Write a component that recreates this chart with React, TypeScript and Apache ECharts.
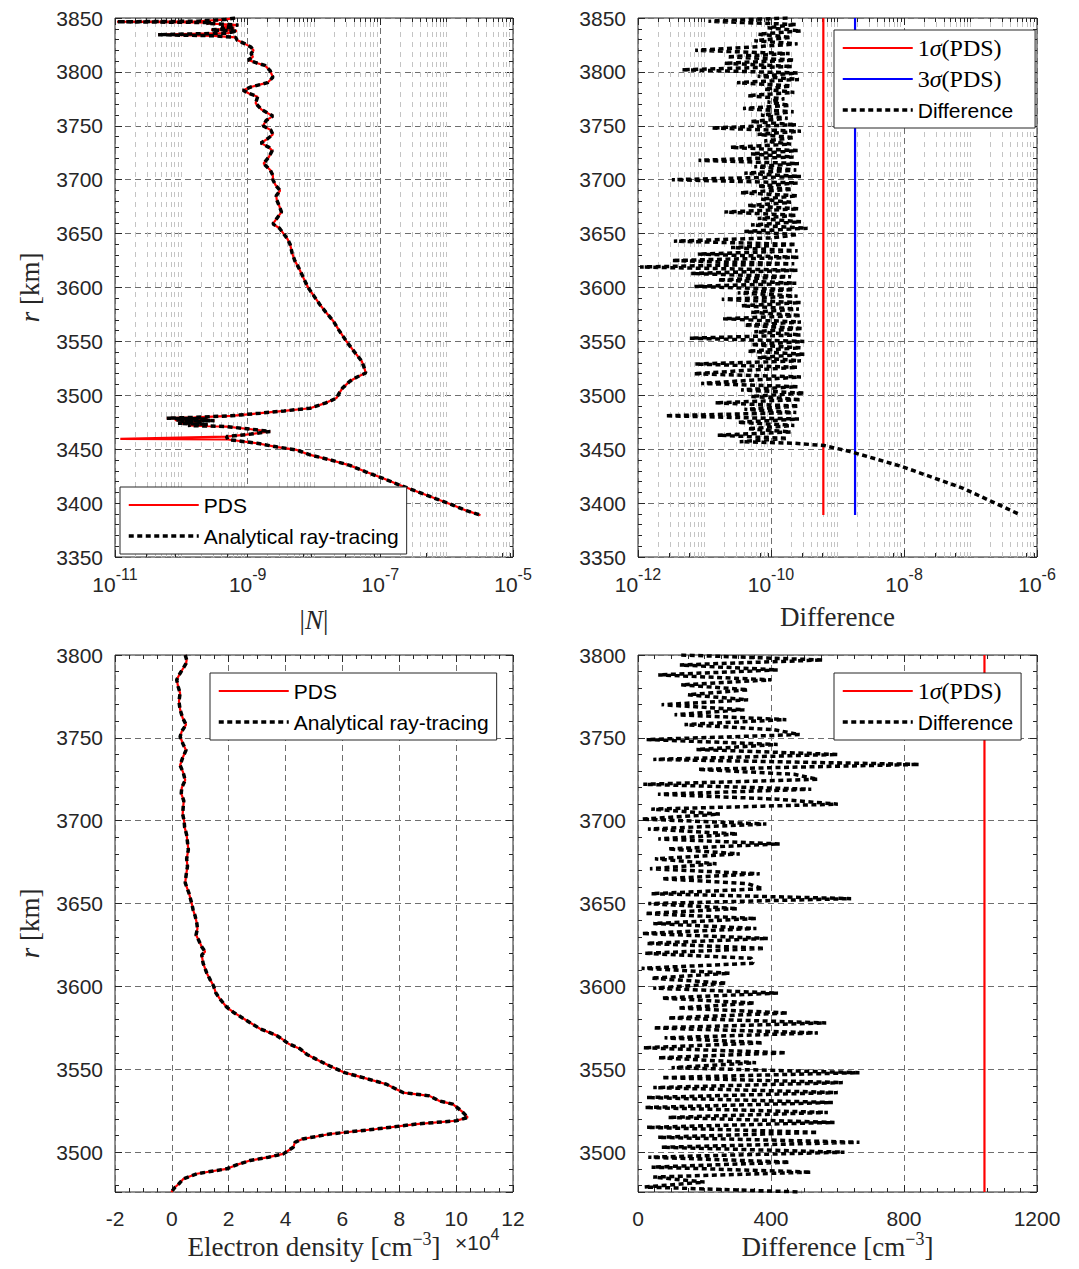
import { useEffect, useRef } from "react";
import * as echarts from "echarts";

// ---------------- data ----------------
// Top-left: |N| (log10 exponent) vs r [km]
const rN = [3850, 3848.5, 3847, 3846.5, 3845.8, 3845, 3843.5, 3842, 3840.5, 3839, 3838, 3836, 3834.5, 3833.5, 3832, 3829.5, 3826, 3823, 3820, 3817, 3814, 3811, 3808, 3806, 3801, 3795, 3790, 3786, 3783, 3780, 3777, 3771, 3765, 3759, 3755, 3750, 3746, 3742, 3738, 3734, 3730, 3727, 3721, 3715, 3709, 3704, 3700, 3695, 3690, 3685, 3681, 3675, 3670, 3665, 3659, 3655, 3650, 3645, 3640, 3632, 3625, 3617, 3609, 3600, 3592, 3584, 3577, 3569, 3560, 3550, 3541, 3531.6, 3525, 3520.7, 3517, 3513, 3509, 3506.7, 3502, 3497.4, 3493, 3488, 3485.5, 3483.4, 3481, 3479.5, 3478.8, 3478, 3477, 3476.5, 3476, 3475, 3474, 3473, 3472, 3471, 3468.5, 3466.4, 3464, 3461.7, 3459, 3455.5, 3452, 3449.3, 3444.7, 3440, 3435, 3429, 3423, 3417, 3410.8, 3404, 3398, 3393, 3388.8];
const logN = [-9.19, -9.35, -9.75, -10.97, -9.55, -9.62, -9.14, -9.4, -9.2, -9.55, -9.16, -9.3, -10.35, -9.5, -9.18, -9.16, -9.04, -8.95, -8.91, -8.95, -8.92, -8.99, -8.85, -8.74, -8.66, -8.62, -8.70, -8.95, -9.07, -8.98, -8.85, -8.88, -8.79, -8.62, -8.72, -8.77, -8.65, -8.62, -8.70, -8.80, -8.68, -8.63, -8.68, -8.76, -8.66, -8.62, -8.62, -8.58, -8.51, -8.57, -8.56, -8.52, -8.49, -8.55, -8.62, -8.52, -8.46, -8.40, -8.36, -8.33, -8.29, -8.22, -8.16, -8.09, -8.00, -7.91, -7.82, -7.71, -7.62, -7.51, -7.40, -7.28, -7.24, -7.22, -7.35, -7.46, -7.53, -7.57, -7.62, -7.66, -7.82, -8.06, -8.45, -8.81, -9.25, -9.8, -10.22, -9.6, -10.1, -9.5, -10.0, -9.7, -10.05, -9.6, -9.9, -9.32, -8.95, -8.66, -8.95, -9.32, -9.3, -8.86, -8.55, -8.26, -8.06, -7.75, -7.46, -7.22, -6.96, -6.72, -6.45, -6.16, -5.90, -5.70, -5.49];
// PDS has an extra spike at r = 3459.6 km (inserted after r = 3461.7)
const pdsSpikeAfterR = 3461.7;
const pdsSpikeR = 3459.6;
const pdsSpikeLogN = -10.92;

// Top-right: difference (log10 exponent), sampled every 3 km from 3850 km downward
const trStartR = 3850;
const trStepR = 3;
const trDiffLog = [
  -9.75, -10.94, -9.62, -10.05, -9.55, -10.19, -9.70, -10.25, -9.60, -10.3,
  -11.14, -9.72, -10.66, -9.65, -10.7, -9.68, -11.34, -9.6, -10.2, -9.58,
  -10.51, -9.7, -10.1, -9.65, -10.35, -9.8, -10.05, -9.72, -10.42, -9.66,
  -10.15, -9.75, -10.3, -9.62, -10.89, -9.55, -10.2, -9.65, -10.1, -9.7,
  -10.61, -9.6, -10.3, -9.66, -11.09, -9.58, -10.25, -9.62, -10.4, -9.55,
  -11.49, -9.6, -10.2, -9.68, -10.46, -9.6, -10.15, -9.7, -10.35, -9.58,
  -10.7, -9.62, -10.2, -9.55, -10.3, -9.45, -10.4, -9.6, -10.0, -11.46,
  -9.62, -10.6, -9.6, -11.1, -9.58, -11.49, -9.65, -11.97, -9.6, -11.2,
  -9.7, -10.8, -9.62, -11.15, -9.66, -10.5, -9.6, -10.74, -9.55, -10.44,
  -9.58, -10.3, -9.55, -10.72, -9.55, -10.4, -9.52, -10.25, -9.55, -11.22,
  -9.5, -10.3, -9.55, -10.35, -9.5, -10.2, -9.55, -11.14, -9.6, -10.4,
  -11.16, -9.55, -10.3, -11.05, -9.6, -10.45, -9.5, -10.3, -9.55, -10.84,
  -9.58, -10.4, -9.62, -11.59, -9.58, -10.5, -9.65, -10.35, -9.7, -10.8,
  -9.75, -10.47,
];
const trTailR = [3455.5, 3453.4, 3447.8, 3433.9, 3413.7, 3390];
const trTailLog = [-9.65, -9.2, -8.81, -8.03, -7.11, -6.28];
const sigma1Log = -9.213; // 1σ(PDS) ≈ 6.1e-10
const sigma3Log = -8.736; // 3σ(PDS) ≈ 1.84e-9
const sigmaTopR = [3389, 3850];

// Bottom-left: electron density (×10^4 cm^-3) vs r
const rNe = [3800, 3797, 3795, 3792, 3789, 3785, 3781, 3777, 3772, 3767, 3762, 3758, 3754, 3750.7, 3746, 3742.6, 3738, 3733.5, 3729, 3724.5, 3720, 3716.5, 3712, 3708.5, 3704, 3700, 3696, 3691.5, 3687, 3682.5, 3677, 3672.5, 3667, 3662.5, 3656.4, 3650, 3646, 3642.5, 3638, 3635, 3631, 3628, 3624, 3621, 3619, 3614, 3608, 3604, 3600.6, 3596, 3592.5, 3587.5, 3584.5, 3579.5, 3574.5, 3570.5, 3568.5, 3565.5, 3562.5, 3559, 3556, 3552, 3548, 3545, 3541, 3538, 3536, 3534, 3531, 3529, 3525, 3521, 3519, 3517, 3514, 3511, 3508, 3506, 3503, 3499, 3497, 3495, 3492.5, 3490, 3488.5, 3487, 3484, 3481, 3479, 3476];
const neE4 = [0.47, 0.52, 0.50, 0.40, 0.29, 0.17, 0.22, 0.29, 0.25, 0.29, 0.38, 0.50, 0.35, 0.29, 0.40, 0.50, 0.38, 0.29, 0.40, 0.47, 0.35, 0.33, 0.42, 0.40, 0.38, 0.43, 0.45, 0.52, 0.55, 0.58, 0.52, 0.55, 0.50, 0.47, 0.60, 0.70, 0.75, 0.82, 0.88, 0.90, 0.85, 0.94, 1.05, 1.17, 1.05, 1.10, 1.23, 1.35, 1.46, 1.55, 1.69, 1.93, 2.16, 2.63, 3.10, 3.68, 3.86, 4.10, 4.50, 4.75, 5.09, 5.56, 6.08, 6.73, 7.55, 7.90, 8.13, 9.06, 9.40, 9.88, 10.18, 10.41, 10.00, 8.60, 7.19, 5.56, 4.60, 4.33, 4.27, 3.92, 3.40, 2.75, 2.30, 1.93, 1.40, 0.88, 0.41, 0.25, 0.12, -0.02];

// Bottom-right: difference [cm^-3], sampled every 3 km from 3800 km downward
const brStartR = 3800;
const brStepR = 3;
const brDiff = [
  130, 556, 126, 420, 61, 401, 130, 331, 150, 331,
  71, 320, 110, 446, 140, 406, 486, 26, 420, 176,
  601, 46, 846, 180, 470, 541, 16, 521, 60, 420,
  601, 40, 246, 11, 386, 30, 300, 61, 426, 90,
  306, 51, 236, 36, 366, 71, 330, 376, 40, 641,
  31, 300, 21, 356, 46, 356, 11, 391, 26, 381,
  20, 341, 346, 11, 276, 40, 266, 46, 421, 71,
  351, 120, 451, 90, 566, 46, 541, 80, 376, 16,
  446, 60, 355, 101, 666, 71, 616, 46, 601, 26,
  586, 21, 571, 91, 591, 26, 541, 60, 666, 71,
  621, 31, 456, 41, 521, 46, 200, 20, 491,
];
const brSigma1 = 1042;
const brSigmaR = [3476, 3800];

// ---------------- styles ----------------
const AX = "#262626";
const SANS = "'Liberation Sans', Arial, sans-serif";
const SERIF = "'Liberation Serif', 'Times New Roman', serif";
const RED = "#ff0000";
const BLUE = "#0000ff";
const DOT = [5, 3.5];
const plain = (v: number) => String(v);

const tickLbl = { color: AX, fontSize: 21, fontFamily: SANS, formatter: plain };
const majorGrid = { show: true, lineStyle: { color: "#6e6e6e", type: [6, 4], width: 1 } };
const noLine = { show: false, onZero: false };
const tickStyle = (len: number) => ({ show: true, inside: true, length: len, lineStyle: { color: AX, width: 1 } });

function logMinors(lo: number, hi: number, labelled: number[]) {
  const out: number[] = [];
  for (let n = lo; n < hi; n++) {
    if (!labelled.includes(n)) out.push(n);
    for (let k = 2; k <= 9; k++) out.push(n + Math.log10(k));
  }
  return out;
}

const powRich = {
  b: { fontSize: 21, fontFamily: SANS, color: AX, lineHeight: 36 },
  s: { fontSize: 16, fontFamily: SANS, color: AX, lineHeight: 16, verticalAlign: "top" },
};

function xLogAxes(grid: number, min: number, max: number, name: string, nameRich: any) {
  const minors = logMinors(min, max, [min, min + 2, min + 4, max]);
  return [
    {
      type: "value", gridIndex: grid, min, max, interval: 2, position: "bottom",
      axisLine: noLine, axisTick: tickStyle(7),
      axisLabel: { margin: 9, formatter: (v: number) => `{b|10}{s|${v}}`, rich: powRich },
      splitLine: majorGrid,
      name, nameLocation: "middle", nameGap: 46,
      nameTextStyle: { fontFamily: SERIF, fontSize: 27, color: AX, rich: nameRich },
    },
    {
      type: "value", gridIndex: grid, min, max, interval: 2, position: "top",
      axisLine: noLine, axisTick: tickStyle(7), axisLabel: { show: false }, splitLine: { show: false },
    },
    {
      type: "value", gridIndex: grid, min, max, position: "bottom",
      axisLine: noLine, axisTick: { ...tickStyle(4), customValues: minors },
      axisLabel: { show: false }, splitLine: { show: false },
    },
    {
      type: "value", gridIndex: grid, min, max, position: "top",
      axisLine: noLine, axisTick: { ...tickStyle(4), customValues: minors },
      axisLabel: { show: false }, splitLine: { show: false },
    },
  ];
}

function xLinAxes(grid: number, min: number, max: number, interval: number, minorSplit: number, name: string, nameGap: number, nameRich: any) {
  return [
    {
      type: "value", gridIndex: grid, min, max, interval, position: "bottom",
      axisLine: noLine, axisTick: tickStyle(7),
      minorTick: { show: true, splitNumber: minorSplit, length: 4, lineStyle: { color: AX } },
      axisLabel: { ...tickLbl, margin: 16 },
      splitLine: majorGrid,
      name, nameLocation: "middle", nameGap,
      nameTextStyle: { fontFamily: SERIF, fontSize: 27, color: AX, rich: nameRich },
    },
    {
      type: "value", gridIndex: grid, min, max, interval, position: "top",
      axisLine: noLine, axisTick: tickStyle(7),
      minorTick: { show: true, splitNumber: minorSplit, length: 4, lineStyle: { color: AX } },
      axisLabel: { show: false }, splitLine: { show: false },
    },
  ];
}

const rNameRich = {
  i: { fontFamily: SERIF, fontSize: 27, fontStyle: "italic", color: AX },
  t: { fontFamily: SERIF, fontSize: 27, color: AX },
};

function yAxes(grid: number, min: number, max: number, interval: number | undefined, withName: boolean) {
  const common: any = { type: "value", gridIndex: grid, min, max };
  if (interval) common.interval = interval; else common.splitNumber = 6;
  return [
    {
      ...common, position: "left",
      axisLine: noLine, axisTick: tickStyle(7),
      minorTick: { show: true, splitNumber: 5, length: 4, lineStyle: { color: AX } },
      axisLabel: { ...tickLbl, margin: 12, showMinLabel: interval ? true : false },
      splitLine: majorGrid,
      ...(withName
        ? {
            name: "{i|r}{t| [km]}", nameLocation: "middle", nameGap: 72, nameRotate: 90,
            nameTextStyle: { fontFamily: SERIF, fontSize: 27, color: AX, rich: rNameRich },
          }
        : {}),
    },
    {
      ...common, position: "right",
      axisLine: noLine, axisTick: tickStyle(7),
      minorTick: { show: true, splitNumber: 5, length: 4, lineStyle: { color: AX } },
      axisLabel: { show: false }, splitLine: { show: false },
    },
  ];
}

function minorGridSeries(xi: number, yi: number, minors: number[]) {
  return {
    type: "line", xAxisIndex: xi, yAxisIndex: yi, data: [], silent: true, z: 1,
    markLine: {
      silent: true, symbol: ["none", "none"], label: { show: false }, animation: false, z: 1,
      lineStyle: { color: "#c4c4c4", type: [5, 5], width: 1 },
      data: minors.map((v) => ({ xAxis: v })),
    },
  };
}

const legendRich = {
  n: { fontFamily: SERIF, fontSize: 24, color: "#000" },
  i: { fontFamily: SERIF, fontSize: 24, fontStyle: "italic", color: "#000" },
};

function legend(left: number, top: number, data: string[], padRight: number) {
  return {
    data, left, top, orient: "vertical", selectedMode: false,
    itemWidth: 70, itemHeight: 14, itemGap: 7, padding: [6, padRight, 6, 7],
    borderColor: AX, borderWidth: 1, backgroundColor: "#fff", borderRadius: 0,
    lineStyle: { width: "inherit" },
    itemStyle: { color: "rgba(0,0,0,0)", borderColor: "rgba(0,0,0,0)", borderWidth: 0, opacity: 0 },
    textStyle: { fontFamily: SANS, fontSize: 21, color: "#000", lineHeight: 24, rich: legendRich },
    formatter: (n: string) => (n.includes("σ") ? `{n|${n[0]}}{i|σ}{n|(PDS)}` : n),
    z: 10,
  };
}

export default function App() {
  const ref = useRef<HTMLDivElement>(null);
  useEffect(() => {
    if (!ref.current) return;
    const chart = echarts.init(ref.current, undefined, { renderer: "svg" });

    const artData = rN.map((r, i) => [logN[i], r]);
    const pdsData: number[][] = [];
    rN.forEach((r, i) => {
      pdsData.push([logN[i], r]);
      if (r === pdsSpikeAfterR) pdsData.push([pdsSpikeLogN, pdsSpikeR]);
    });
    const trData = trDiffLog.map((v, i) => [v, trStartR - i * trStepR]).concat(trTailR.map((r, i) => [trTailLog[i], r]));
    const neData = rNe.map((r, i) => [neE4[i], r]);
    const brData = brDiff.map((v, i) => [v, brStartR - i * brStepR]);

    const minorsTL = logMinors(-11, -5, [-11, -9, -7, -5]);
    const minorsTR = logMinors(-12, -6, [-12, -10, -8, -6]);

    const densRich = {
      t: { fontFamily: SERIF, fontSize: 27, color: AX, lineHeight: 34 },
      s: { fontFamily: SERIF, fontSize: 18, color: AX, lineHeight: 18, verticalAlign: "top" },
      i: { fontFamily: SERIF, fontSize: 27, fontStyle: "italic", color: AX, lineHeight: 34 },
    };

    const xAxis = [
      ...xLogAxes(0, -11, -5, "|{i|N}|", densRich),
      ...xLogAxes(1, -12, -6, "Difference", densRich),
      ...xLinAxes(2, -2, 12, 2, 4, "{t|Electron density [cm}{s|−3}{t|]}", 38, densRich),
      ...xLinAxes(3, 0, 1200, 400, 8, "{t|Difference [cm}{s|−3}{t|]}", 38, densRich),
    ];
    const yAxis = [
      ...yAxes(0, 3350, 3850, 50, true),
      ...yAxes(1, 3350, 3850, 50, false),
      ...yAxes(2, 3476, 3800, undefined, true),
      ...yAxes(3, 3476, 3800, undefined, false),
    ];

    const blackDot = { color: "#000", width: 3.5, type: DOT, cap: "butt" };
    const option: any = {
      animation: false,
      backgroundColor: "#fff",
      textStyle: { fontFamily: SANS },
      grid: [
        { left: 115, top: 18, width: 398, height: 539 },
        { left: 638, top: 18, width: 399, height: 539 },
        { left: 115, top: 655, width: 398, height: 537 },
        { left: 638, top: 655, width: 399, height: 537 },
      ].map((g) => ({ ...g, show: true, borderColor: AX, borderWidth: 1, backgroundColor: "transparent", containLabel: false })),
      xAxis,
      yAxis,
      legend: [
        legend(120, 487, ["PDS", "Analytical ray-tracing"], 8),
        legend(834, 30, ["1σ(PDS)", "3σ(PDS)", "Difference"], 22),
        legend(210, 673, ["PDS", "Analytical ray-tracing"], 8),
        legend(834, 673, ["1σ(PDS)", "Difference"], 8),
      ],
      graphic: [
        {
          type: "text", left: 455, top: 1226, z: 20,
          style: {
            text: "{b|×10}{s|4}",
            rich: {
              b: { fontFamily: SANS, fontSize: 21, fill: AX, lineHeight: 32 },
              s: { fontFamily: SANS, fontSize: 16, fill: AX, lineHeight: 16, verticalAlign: "top" },
            },
          },
        },
      ],
      series: [
        minorGridSeries(0, 0, minorsTL),
        { name: "PDS", type: "line", xAxisIndex: 0, yAxisIndex: 0, data: pdsData, symbol: "none", lineStyle: { color: RED, width: 2.2 }, itemStyle: { color: RED }, z: 3 },
        { name: "Analytical ray-tracing", type: "line", xAxisIndex: 0, yAxisIndex: 0, data: artData, symbol: "none", lineStyle: blackDot, itemStyle: { color: "#000" }, z: 4 },

        minorGridSeries(4, 2, minorsTR),
        { name: "1σ(PDS)", type: "line", xAxisIndex: 4, yAxisIndex: 2, data: sigmaTopR.map((r) => [sigma1Log, r]), symbol: "none", lineStyle: { color: RED, width: 2.2 }, itemStyle: { color: RED }, z: 3 },
        { name: "3σ(PDS)", type: "line", xAxisIndex: 4, yAxisIndex: 2, data: sigmaTopR.map((r) => [sigma3Log, r]), symbol: "none", lineStyle: { color: BLUE, width: 2.2 }, itemStyle: { color: BLUE }, z: 3 },
        { name: "Difference", type: "line", xAxisIndex: 4, yAxisIndex: 2, data: trData, symbol: "none", lineStyle: blackDot, itemStyle: { color: "#000" }, z: 4 },

        { name: "PDS", type: "line", xAxisIndex: 8, yAxisIndex: 4, data: neData, symbol: "none", lineStyle: { color: RED, width: 2.2 }, itemStyle: { color: RED }, z: 3 },
        { name: "Analytical ray-tracing", type: "line", xAxisIndex: 8, yAxisIndex: 4, data: neData, symbol: "none", lineStyle: blackDot, itemStyle: { color: "#000" }, z: 4 },

        { name: "1σ(PDS)", type: "line", xAxisIndex: 10, yAxisIndex: 6, data: brSigmaR.map((r) => [brSigma1, r]), symbol: "none", lineStyle: { color: RED, width: 2.2 }, itemStyle: { color: RED }, z: 3 },
        { name: "Difference", type: "line", xAxisIndex: 10, yAxisIndex: 6, data: brData, symbol: "none", lineStyle: blackDot, itemStyle: { color: "#000" }, z: 4 },
      ],
    };
    chart.setOption(option);
    return () => chart.dispose();
  }, []);
  return <div ref={ref} style={{ position: "fixed", left: 0, top: 0, width: 1079, height: 1269, background: "#fff" }} />;
}
